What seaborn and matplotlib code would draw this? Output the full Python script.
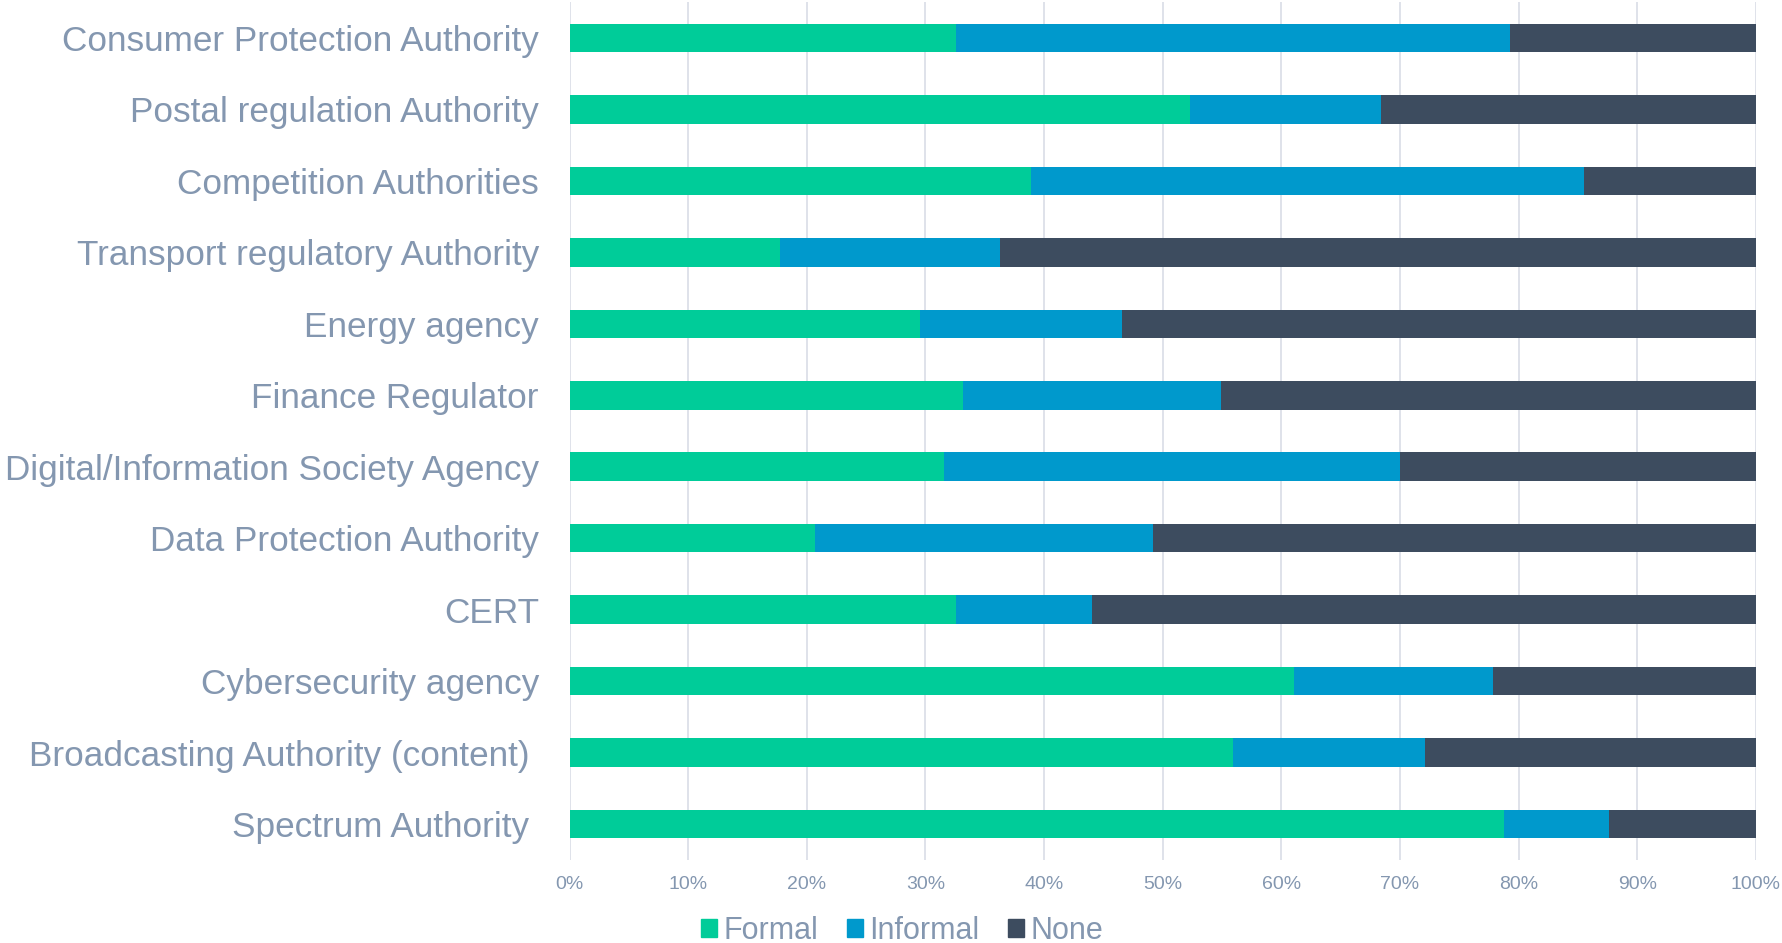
import matplotlib
matplotlib.use("Agg")
import matplotlib.pyplot as plt
import matplotlib.patches as mpatches
from matplotlib.ticker import PercentFormatter
import numpy as np
import pandas as pd
import seaborn as sns

categories = [
    "Consumer Protection Authority",
    "Postal regulation Authority",
    "Competition Authorities",
    "Transport regulatory Authority",
    "Energy agency",
    "Finance Regulator",
    "Digital/Information Society Agency",
    "Data Protection Authority",
    "CERT",
    "Cybersecurity agency",
    "Broadcasting Authority (content) ",
    "Spectrum Authority ",
]
formal = [32.6, 52.3, 38.9, 17.7, 29.5, 33.2, 31.6, 20.7, 32.6, 61.1, 55.9, 78.8]
informal = [46.7, 16.1, 46.6, 18.6, 17.1, 21.7, 38.4, 28.5, 11.4, 16.7, 16.2, 8.8]
none = [20.7, 31.6, 14.5, 63.7, 53.4, 45.1, 30.0, 50.8, 56.0, 22.2, 27.9, 12.4]
series_names = ["Formal", "Informal", "None"]
tick_values = [0, 10, 20, 30, 40, 50, 60, 70, 80, 90, 100]

colors = {"Formal": "#00CC99", "Informal": "#0099CC", "None": "#3D4C5F"}
text_color = "#8497B0"
grid_color = "#D9DDE6"

sns.set_theme(style="white")
plt.rcParams["font.family"] = ["Liberation Sans", "DejaVu Sans"]

df = pd.DataFrame({"category": categories, "Formal": formal,
                   "Informal": informal, "None": none})
df["c_formal"] = df["Formal"]
df["c_informal"] = df["Formal"] + df["Informal"]
df["c_none"] = df["Formal"] + df["Informal"] + df["None"]

fig = plt.figure(figsize=(17.82, 9.43), dpi=100)
ax = fig.add_axes([0.3196, 0.0883, 0.9854 - 0.3196, 0.9976 - 0.0883])

for col, name in [("c_none", "None"), ("c_informal", "Informal"), ("c_formal", "Formal")]:
    sns.barplot(data=df, x=col, y="category", orient="h", color=colors[name],
                width=0.4, saturation=1, ax=ax, order=categories, zorder=3,
                linewidth=0)

ax.set_xlim(0, 100)
ax.set_ylim(11.5, -0.5)
ax.set_xticks(tick_values)
ax.xaxis.set_major_formatter(PercentFormatter(decimals=0))
ax.grid(axis="x", color=grid_color, linewidth=1.2, zorder=0)
ax.grid(axis="y", visible=False)
for s in ax.spines.values():
    s.set_visible(False)
ax.set_xlabel("")
ax.set_ylabel("")
ax.tick_params(axis="x", labelsize=14, colors=text_color, length=0, pad=11.5)
ax.tick_params(axis="y", labelsize=25.3, colors=text_color, length=0, pad=22)

handles = [mpatches.Patch(color=colors[n], label=n) for n in series_names]
fig.legend(handles=handles, loc="center", bbox_to_anchor=(902 / 1782, 1 - 931 / 943),
           ncol=3, frameon=False, fontsize=22, labelcolor=text_color,
           handlelength=0.52, handleheight=0.52, handletextpad=0.22,
           columnspacing=0.93, borderpad=0, borderaxespad=0)

fig.savefig("out.png", dpi=100)
